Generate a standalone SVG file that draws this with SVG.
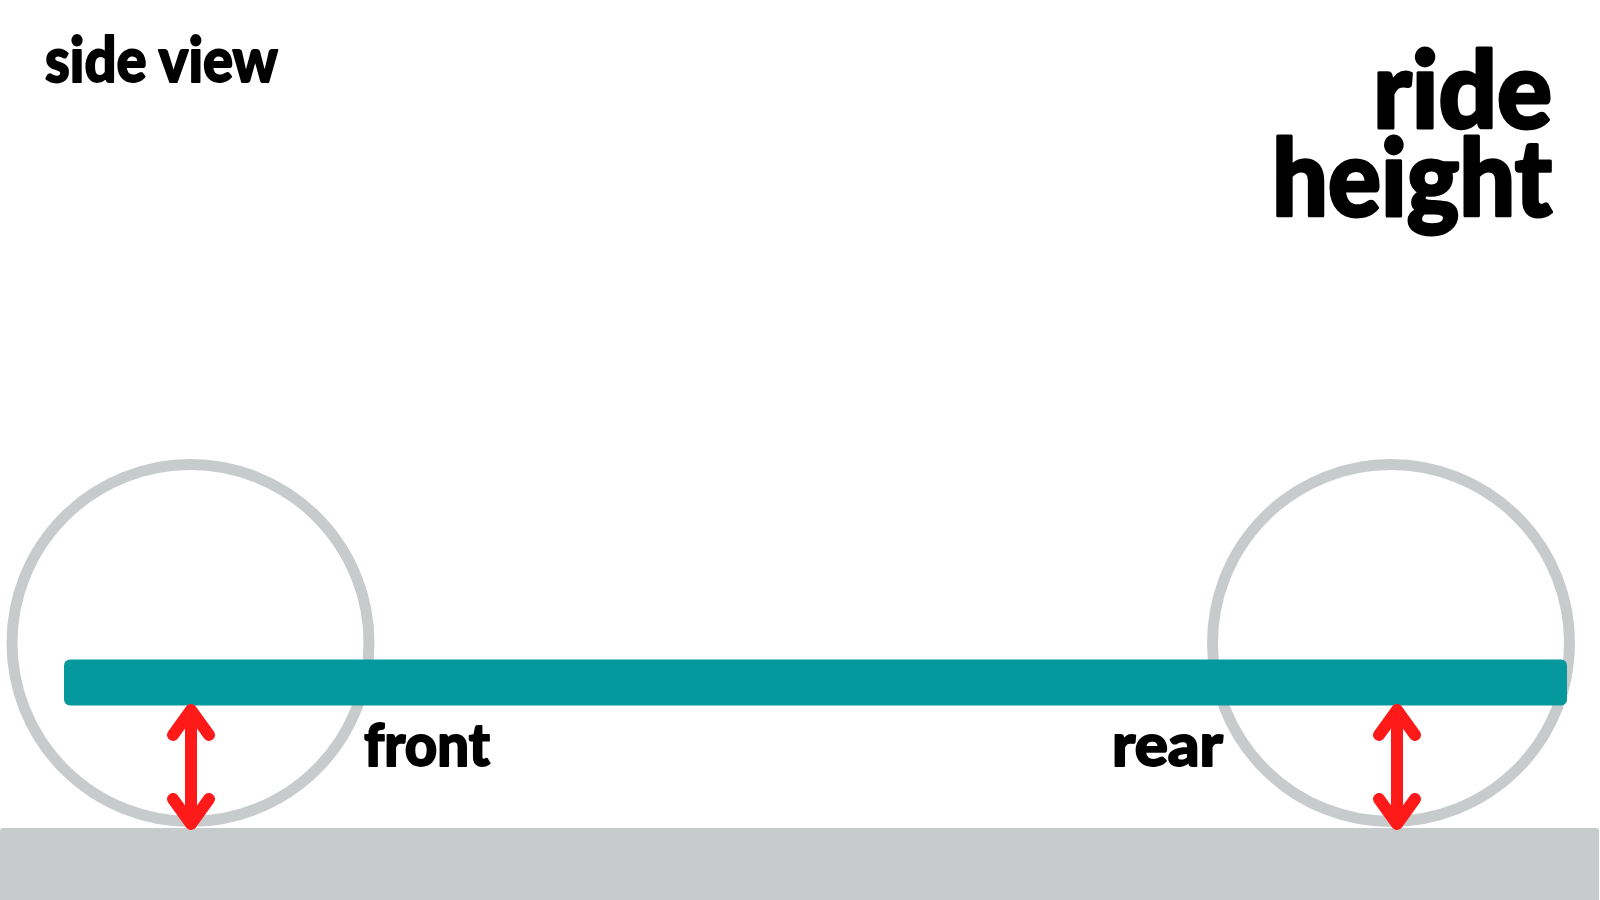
<svg xmlns="http://www.w3.org/2000/svg" width="1600" height="900" viewBox="0 0 1600 900">
  <style>
    .wheel { fill: none; stroke: #c8cbcc; stroke-width: 11; }
    .lbl { font-family: Lato, Inter, "Liberation Sans", sans-serif; font-weight: 900; fill: #000; stroke: #000; stroke-linejoin: round; }
    .big { stroke-width: 3; }
    .small { stroke-width: 1.8; }
    .arrow { fill: none; stroke: #ff1a1a; stroke-width: 12; stroke-linecap: round; stroke-linejoin: round; }
  </style>
  <rect width="1600" height="900" fill="#ffffff"/>
  <g id="front-wheel"><circle class="wheel" cx="190.5" cy="643" r="178.5"/></g>
  <g id="rear-wheel"><circle class="wheel" cx="1391" cy="643" r="178.5"/></g>
  <g id="ground"><rect x="0" y="828" width="1599" height="74" rx="3" fill="#c8cbcc"/></g>
  <g id="chassis"><rect x="64" y="659.5" width="1503" height="46" rx="6" fill="#05999d"/></g>
  <g id="connectors">
    <path class="arrow" d="M191 710 V823 M173 735 L191 710 L209 735 M173 799 L191 824 L209 799"/>
    <path class="arrow" d="M1397 710 V823 M1379 735 L1397 710 L1415 735 M1379 799 L1397 824 L1415 799"/>
  </g>
  <g id="title-side-view"><text class="lbl small" x="45" y="82" font-size="63" textLength="233" lengthAdjust="spacingAndGlyphs">side view</text></g>
  <g id="title-ride-height">
    <text class="lbl big" x="1373" y="128" font-size="106" textLength="179" lengthAdjust="spacingAndGlyphs">ride</text>
    <text class="lbl big" x="1272" y="216" font-size="106" textLength="280" lengthAdjust="spacingAndGlyphs">height</text>
  </g>
  <g id="label-front"><text class="lbl small" x="364" y="766" font-size="59" textLength="126" lengthAdjust="spacingAndGlyphs">front</text></g>
  <g id="label-rear"><text class="lbl small" x="1112" y="766" font-size="59" textLength="111" lengthAdjust="spacingAndGlyphs">rear</text></g>
</svg>
